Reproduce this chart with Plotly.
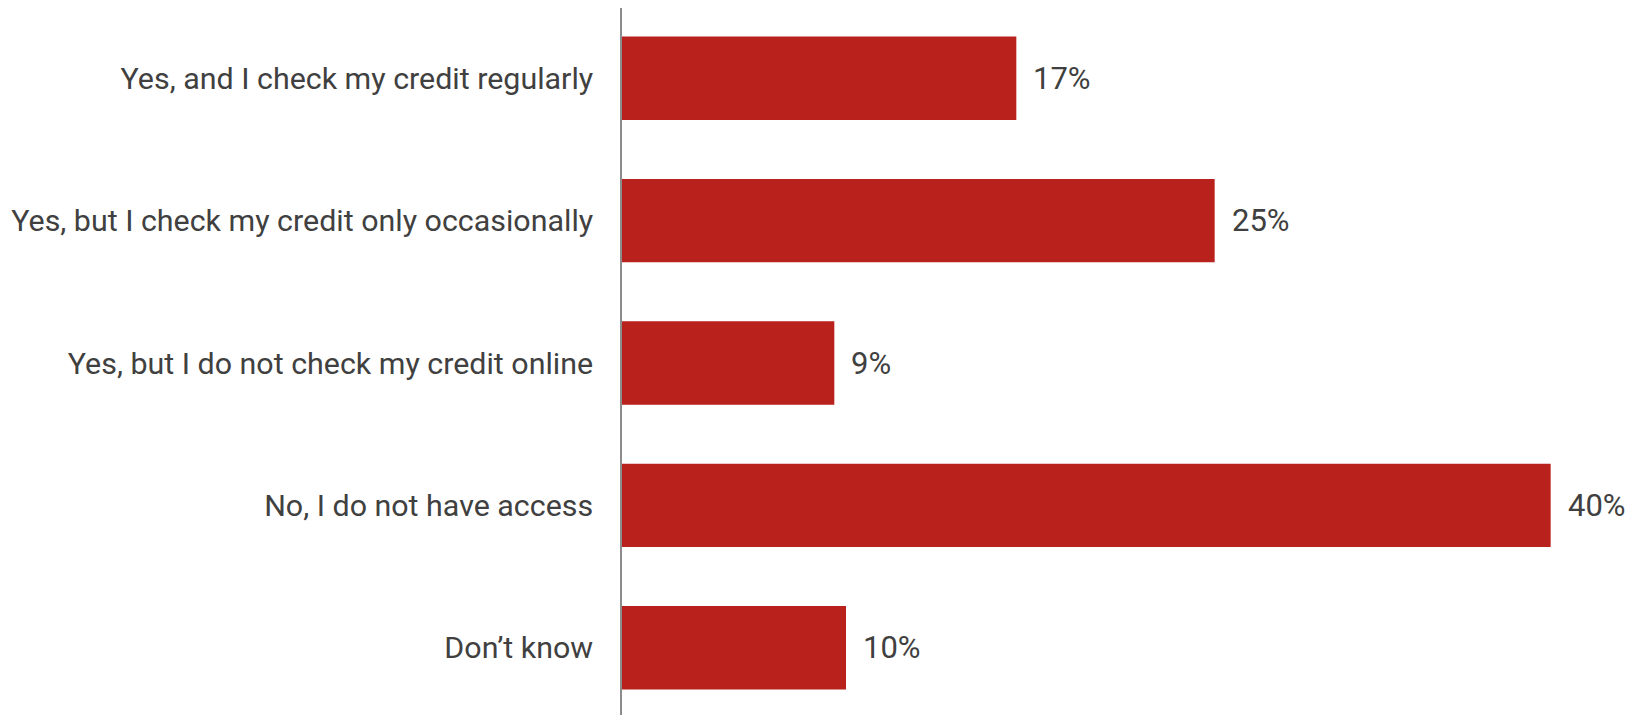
import plotly.graph_objects as go

categories = [
    "Yes, and I check my credit regularly",
    "Yes, but I check my credit only occasionally",
    "Yes, but I do not check my credit online",
    "No, I do not have access",
    "Don\u2019t know",
]
values = [16.9, 25.4, 9.1, 39.8, 9.6]
labels = ["17%", "25%", "9%", "40%", "10%"]

BAR_COLOR = "#B9221C"
TEXT_COLOR = "#404040"
FONT = "Roboto"

fig = go.Figure()
fig.add_trace(go.Bar(
    x=values,
    y=categories,
    orientation="h",
    marker=dict(color=BAR_COLOR, line=dict(width=0)),
    hoverinfo="skip",
))

for cat, v, lab in zip(categories, values, labels):
    fig.add_annotation(
        x=v, y=cat, text=lab, showarrow=False,
        xanchor="left", yanchor="middle", xshift=15,
        font=dict(family=FONT, size=31, color=TEXT_COLOR),
    )

fig.update_layout(
    width=1629, height=707,
    margin=dict(l=614, r=0, t=0, b=0),
    paper_bgcolor="white", plot_bgcolor="white",
    bargap=0.414,
    showlegend=False,
    font=dict(family=FONT, size=30, color=TEXT_COLOR),
    xaxis=dict(range=[0, 43.5], showgrid=False, zeroline=False,
               showticklabels=False, showline=False, fixedrange=True),
    yaxis=dict(range=[4.472, -0.493], showgrid=False, zeroline=False,
               showline=True, linecolor="#8c8c8c", linewidth=1.5,
               ticks="", ticklabelstandoff=21,
               tickfont=dict(family=FONT, size=30.4, color=TEXT_COLOR)),
)

fig.write_html("out.html")
